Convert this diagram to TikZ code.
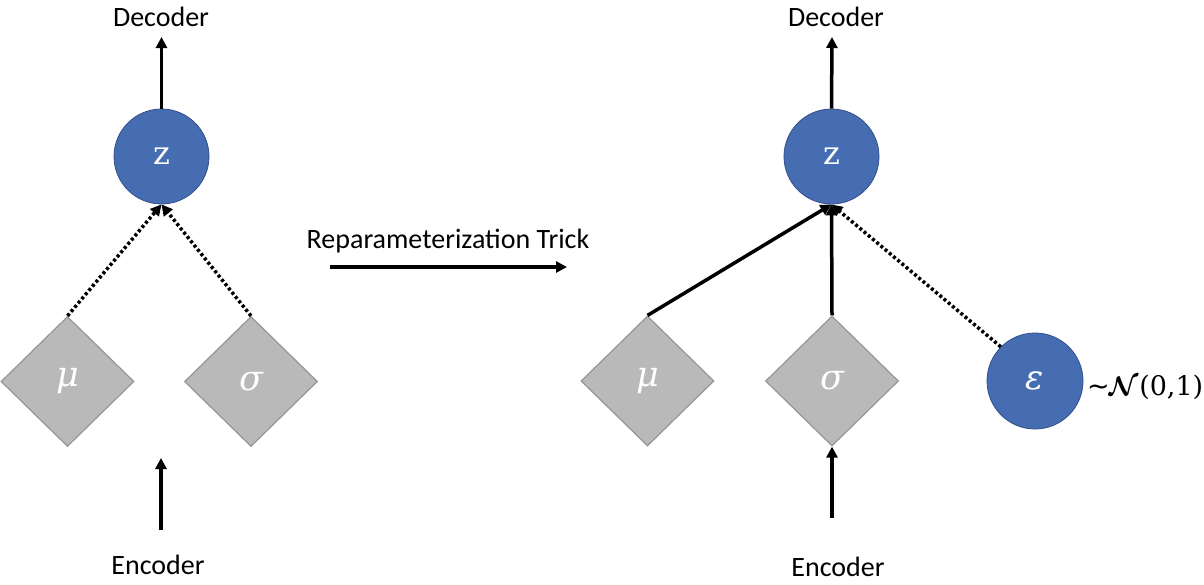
\RequirePackage{fix-cm}
\documentclass[tikz,border=0pt]{standalone}
\usepackage{fontspec}
\setmainfont{Carlito}
\newfontfamily\symser{DejaVu Serif}
\newfontfamily\symsans{DejaVu Sans}
\usetikzlibrary{shapes.geometric,arrows.meta}
\definecolor{zblue}{RGB}{70,108,178}
\definecolor{zborder}{RGB}{50,80,140}
\definecolor{dfill}{RGB}{185,185,185}
\definecolor{dborder}{RGB}{150,150,150}
\begin{document}
\begin{tikzpicture}[x=1pt,y=-1pt,
  blob/.style={circle,fill=zblue,draw=zborder,line width=0.8pt,minimum size=95pt,inner sep=0pt,text=white,font=\symser\fontsize{32}{36}\selectfont},
  gem/.style={diamond,fill=dfill,draw=dborder,line width=1.2pt,minimum width=133pt,minimum height=130pt,inner sep=0pt,text=white,font=\symser\itshape\fontsize{35}{40}\selectfont},
  lbl/.style={font=\fontsize{28}{32}\selectfont,inner sep=0pt},
  conn/.style={line width=3.5pt,-{Triangle[length=11pt,width=11pt]}},
  dotconn/.style={conn,dash pattern=on 3pt off 2.5pt}
]
\useasboundingbox (0,0) rectangle (1204,584);
% left
\node[blob] (z1) at (161.5,156.5) {z};
\node[gem] (mu1) at (67.5,381.5) {μ};
\node[gem] (s1) at (251,381.5) {σ};
\node[lbl] (dec1) at (161,17) {Decoder};
\node[lbl] (enc1) at (158,565) {Encoder};
\coordinate (d1) at (161.5,37);
\coordinate (e1t) at (161,458);
\coordinate (e1b) at (161,530);
\draw[conn] (z1.north) -- (d1);
\draw[conn] (e1b) -- (e1t);
\draw[dotconn] (mu1.north) -- (z1.south);
\draw[dotconn] (s1.north) -- (z1.south);
% middle
\node[lbl] (rt) at (448,241) {Reparameterization Trick};
\coordinate (ra) at (330,267);
\coordinate (rb) at (567,267);
\draw[conn] (ra) -- (rb);
% right
\node[blob] (z2) at (831.5,156.5) {z};
\node[gem] (mu2) at (647.5,381) {μ};
\node[gem] (s2) at (832,381) {σ};
\node[blob,minimum size=96pt,font=\symser\itshape\fontsize{34}{38}\selectfont] (eps) at (1035,381) {ε};
\node[anchor=west,inner sep=0pt,font=\symser\fontsize{27}{32}\selectfont] (nrm) at (1087,387) {{\symsans ∼}\hspace{-1pt}{\mathversion{bold}$\mathcal{N}$}\hspace{1pt}(0,1)};
\node[lbl] (dec2) at (836,17) {Decoder};
\node[lbl] (enc2) at (838,567) {Encoder};
\coordinate (d2) at (832,37);
\coordinate (e2b) at (832,518);
\draw[conn] (z2.north) -- (d2);
\draw[conn] (e2b) -- (s2.south);
\draw[conn] (mu2.north) -- (z2.south);
\draw[conn] (s2.north) -- (z2.south);
\draw[dotconn] (eps.north west) -- (z2.south);
\end{tikzpicture}
\end{document}
